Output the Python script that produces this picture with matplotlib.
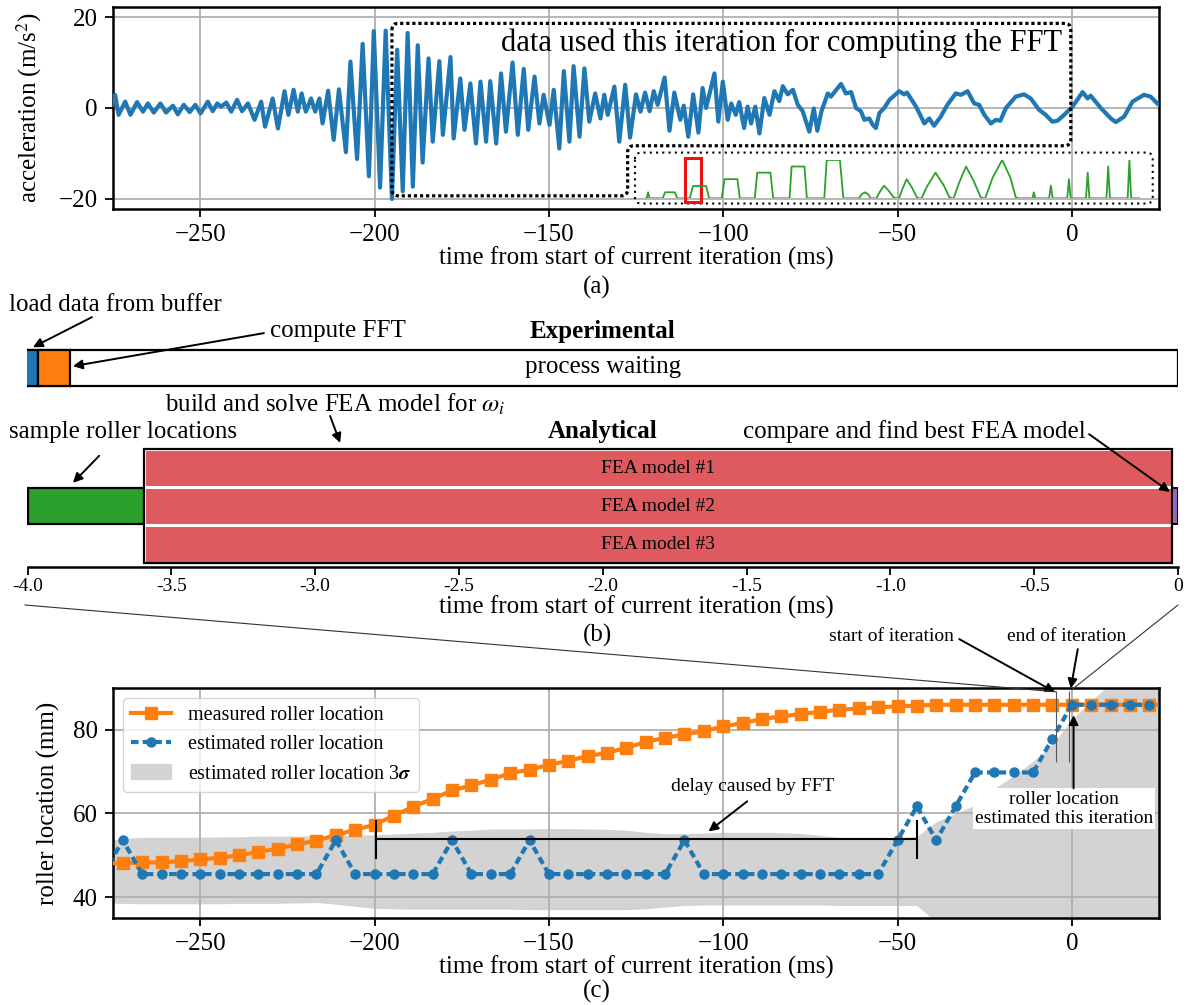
import matplotlib
matplotlib.use("Agg")
import matplotlib.pyplot as plt
from matplotlib.patches import Rectangle, PathPatch, ConnectionPatch, Patch
from matplotlib.lines import Line2D
from matplotlib.path import Path
import numpy as np

plt.rcParams['font.family'] = ['Liberation Serif', 'DejaVu Serif']
plt.rcParams['mathtext.fontset'] = 'stix'

# ---------------- (a) acceleration signal (ms, m/s^2) ----------------
acc_t = [
    -275.3, -274.4, -273.4, -271.5, -270.0, -268.1, -266.4, -265.0, -263.3, -261.4,
    -259.8, -257.8, -256.4, -254.7, -253.0, -251.4, -249.9, -247.8, -246.4, -245.1,
    -244.0, -242.5, -241.1, -239.4, -238.0, -236.3, -234.4, -232.5, -231.4, -229.2,
    -227.7, -225.8, -224.7, -223.2, -222.0, -220.9, -219.7, -218.2, -217.0, -215.8,
    -214.9, -213.3, -211.7, -210.2, -208.2, -206.9, -205.0, -203.4, -201.6, -200.2,
    -198.4, -196.8, -195.0, -193.5, -191.9, -190.5, -189.0, -187.6, -186.2, -184.5,
    -183.3, -181.4, -180.4, -178.2, -177.3, -175.4, -174.2, -172.5, -170.9, -169.6,
    -168.0, -166.8, -165.1, -163.7, -162.3, -160.4, -158.9, -157.2, -155.9, -154.1,
    -152.7, -151.5, -149.8, -148.6, -147.0, -145.7, -144.1, -142.9, -141.2, -139.8,
    -138.4, -136.7, -135.2, -134.1, -133.1, -131.2, -129.8, -128.1, -126.7,
    -125.0, -123.7, -122.4, -121.1, -119.9, -118.8, -116.8, -115.4, -114.0, -112.3,
    -111.3, -110.0, -108.6, -107.1, -105.9, -104.9, -103.9, -102.5, -101.4, -100.1,
    -98.7, -97.7, -96.4, -95.4, -94.0, -93.0, -92.0, -90.8, -89.6, -88.2,
    -86.7, -85.3, -83.9, -82.9, -81.5, -80.0, -78.6, -77.2, -75.3, -74.0,
    -73.0, -71.8, -70.0, -69.1, -66.2, -64.8, -63.3, -61.9, -60.5, -59.5,
    -58.1, -57.1, -56.2, -55.2, -53.8, -52.3,
    -49.5, -48.1, -47.3, -46.6, -44.7, -43.5, -42.3, -40.9, -39.5, -37.6,
    -35.7, -33.3, -31.8, -29.9, -28.0, -26.6, -25.1, -23.2, -21.8, -20.5,
    -18.9, -16.1, -13.7, -11.8, -9.4, -7.5, -5.6, -4.1, -2.2, 0.2,
    3.1, 4.5, 5.4, 8.3, 11.2, 12.6, 15.0, 17.4, 20.7, 22.6,
    24.5, 25.5,
]
acc_v = [
    0.5, 2.9, -1.5, 1.4, -1.5, 1.3, -0.8, 1.0, -1.0, 1.0,
    -1.0, 0.5, -1.4, 0.7, -0.9, 0.7, -1.2, 1.4, -0.7, 1.0,
    0.3, 1.2, -0.8, 1.8, -0.7, 1.0, -2.6, 1.4, -4.1, 2.1,
    -4.5, 3.7, -1.5, 4.0, -0.8, 3.2, -0.8, 2.1, -0.8, 2.1,
    -3.4, 3.8, -7.0, 4.1, -9.7, 10.2, -11.2, 14.1, -15.0, 16.9,
    -17.5, 17.0, -20.0, 12.8, -18.3, 16.5, -17.3, 13.8, -12.0, 10.9,
    -7.4, 10.3, -5.9, 11.2, -6.7, 6.5, -4.8, 5.4, -7.8, 5.8,
    -7.4, 5.9, -7.8, 7.6, -5.2, 10.0, -5.9, 8.6, -4.8, 6.9,
    -3.4, 2.9, -3.7, 4.0, -8.9, 8.1, -7.4, 9.2, -6.3, 8.7,
    -3.0, 3.2, -2.3, 2.9, -1.5, 4.7, -7.4, 5.1, -6.5,
    3.0, -0.8, 3.4, -0.7, 3.7, 0.7, 6.7, -5.0, 3.4, -2.6,
    0.5, -6.3, 3.0, -5.4, 4.4, 0.0, 3.2, 7.6, -3.0, 5.8,
    -2.6, 1.0, -1.5, 1.3, -4.4, 0.3, -3.4, 0.3, -5.6, 2.2,
    -1.5, 3.7, 1.5, 4.8, 3.0, 4.0, 0.7, -0.7, -5.2, -0.1,
    -5.0, -0.7, 3.2, 2.5, 5.3, 3.2, 3.5, 0.0, -0.7, -2.6,
    -2.3, -3.7, -4.4, -1.1, 0.0, 1.8,
    3.7, 3.0, 3.4, 2.6, 0.3, -1.5, -3.4, -2.3, -3.9, -1.9,
    0.7, 3.2, 2.9, 3.7, 1.0, 0.7, -1.5, -3.4, -2.6, -2.8,
    0.0, 2.5, 3.0, 2.1, -0.4, -1.5, -3.0, -2.8, -1.5, 0.3,
    3.5, 2.1, 2.7, 0.0, -2.3, -3.1, -1.9, 1.4, 2.9, 2.5,
    1.0, 0.5,
]

# FFT window outline (corners, ms / m/s^2) and spectrum inset box
win_x = [-195.0, -0.3, -0.3, -127.4, -127.4, -195.0]
win_y = [18.6, 18.6, -8.3, -8.3, -19.3, -19.3]
specbox_x = [-125.3, 23.2, 23.2, -125.3]
specbox_y = [-9.8, -9.8, -21.0, -21.0]

# FFT magnitude (bin, normalised magnitude)
spec_bin = [0, 4, 8, 12, 50, 57, 85, 92, 128, 137, 175, 184, 220, 228, 265, 272,
            315, 322, 360, 368, 415, 421, 458, 465, 515, 522, 560, 570,
            615, 622, 632, 642, 648,
            665, 675, 687, 700, 715, 722,
            730, 740, 752, 766, 782, 788,
            795, 810, 835, 858, 875, 882,
            887, 905, 923, 945, 965, 972,
            978, 1000, 1027, 1050, 1066, 1072,
            1114, 1118, 1122, 1162, 1167, 1172, 1214, 1219, 1224,
            1268, 1273, 1278, 1327, 1332, 1337, 1388, 1393, 1398, 1423]
spec_mag = [0, 0, 0.157, 0, 0, 0.157, 0.157, 0, 0, 0.32, 0.32, 0, 0, 0.50, 0.50, 0,
            0, 0.67, 0.67, 0, 0, 0.83, 0.83, 0, 0, 1.0, 1.0, 0,
            0, 0.10, 0.157, 0.10, 0,
            0, 0.17, 0.33, 0.20, 0.02, 0,
            0, 0.25, 0.50, 0.30, 0.02, 0,
            0, 0.30, 0.67, 0.35, 0.03, 0,
            0, 0.45, 0.83, 0.45, 0.03, 0,
            0, 0.55, 1.0, 0.55, 0.03, 0,
            0, 0.157, 0, 0, 0.33, 0, 0, 0.50, 0,
            0, 0.67, 0, 0, 0.83, 0, 0, 1.0, 0, 0]
spec_sel = (113, 160)   # bins inside the red marker

# ---------------- (b) timing of one iteration (ms) ----------------
exp_names = ['process waiting', 'load data from buffer', 'compute FFT']
exp_start = [-4.012, -4.012, -3.965]
exp_end = [0.0, -3.965, -3.852]
exp_colors = ['white', '#1f77b4', '#ff7f0e']

sample_span = (-4.0, -3.594)
fea_span = (-3.594, -0.021)
compare_span = (-0.021, 0.0)
fea_models = ['FEA model #1', 'FEA model #2', 'FEA model #3']

b_ticks = [-4.0, -3.5, -3.0, -2.5, -2.0, -1.5, -1.0, -0.5, 0.0]
b_ticklabels = ['-4.0', '-3.5', '-3.0', '-2.5', '-2.0', '-1.5', '-1.0', '-0.5', '0']

# ---------------- (c) roller location (mm) ----------------
iter_period = 5.555
first_iter = -277.75
measured = [48.1, 48.1, 48.3, 48.3, 48.6, 49.0, 49.4, 50.0, 50.8, 51.6,
            52.6, 53.5, 54.8, 56.1, 57.3, 59.5, 61.6, 63.5, 65.5, 66.7,
            68.1, 69.6, 70.5, 71.6, 72.6, 73.7, 74.5, 75.7, 77.1, 78.1,
            78.9, 79.7, 80.8, 81.6, 82.6, 83.2, 83.8, 84.3, 84.8, 85.1,
            85.4, 85.6, 85.8, 86.0, 86.0, 86.0, 86.0, 86.0, 86.0, 86.0,
            86.0, 86.0, 86.0, 86.0, 86.0, 86.0]
estimated = [45.5, 53.6, 45.5, 45.5, 45.5, 45.5, 45.5, 45.5, 45.5, 45.5,
             45.5, 45.5, 53.6, 45.5, 45.5, 45.5, 45.5, 45.5, 53.6, 45.5,
             45.5, 45.5, 53.6, 45.5, 45.5, 45.5, 45.5, 45.5, 45.5, 45.5,
             53.6, 45.5, 45.5, 45.5, 45.5, 45.5, 45.5, 45.5, 45.5, 45.5,
             45.5, 53.6, 61.7, 53.6, 61.7, 69.8, 69.8, 69.8, 69.8, 77.9,
             86.0, 86.0, 86.0, 86.0, 86.0, 86.0]
band_hi = [53.5, 54.0, 54.3, 54.3, 54.3, 54.3, 54.4, 54.4, 54.6, 54.6,
           54.6, 54.7, 54.8, 54.8, 54.9, 55.1, 55.3, 55.5, 55.8, 56.0,
           56.3, 56.3, 56.3, 56.4, 56.4, 56.3, 56.2, 56.0, 55.5, 55.2,
           55.2, 55.3, 55.5, 55.5, 55.5, 55.4, 55.2, 54.8, 54.3, 54.1,
           54.1, 54.2, 54.5, 58.0, 60.0, 62.0, 66.0, 69.0, 72.5, 76.5,
           82.5, 87.0, 91.0, 92.0, 92.0, 92.0]
band_lo = [38.6, 38.5, 38.4, 38.4, 38.4, 38.4, 38.4, 38.5, 38.5, 38.5,
           38.6, 38.7, 38.3, 37.8, 37.3, 37.2, 37.1, 37.1, 37.1, 37.1,
           37.1, 37.1, 37.0, 37.0, 37.0, 37.0, 37.0, 37.0, 37.2, 37.6,
           38.0, 38.1, 38.1, 38.1, 38.1, 38.1, 38.1, 38.1, 38.0, 38.0,
           38.0, 38.0, 38.0, 34.0, 30.0, 30.0, 30.0, 30.0, 30.0, 30.0,
           30.0, 30.0, 30.0, 30.0, 30.0, 30.0]
fft_delay = (-199.5, -44.4)
iteration_start, iteration_end = -4.5, -0.9

W, H = 1189, 1005
fig = plt.figure(figsize=(W / 100, H / 100), dpi=100)


def px_rect(left, top, right, bottom):
    return [left / W, 1 - bottom / H, (right - left) / W, (bottom - top) / H]


def rounded_outline(xs, ys, rx, ry):
    verts, codes = [], []
    n = len(xs)
    for i in range(n):
        cx, cy = xs[i], ys[i]
        px_, py_ = xs[i - 1], ys[i - 1]
        nx, ny = xs[(i + 1) % n], ys[(i + 1) % n]
        a = (cx + np.sign(px_ - cx) * rx, cy + np.sign(py_ - cy) * ry)
        b = (cx + np.sign(nx - cx) * rx, cy + np.sign(ny - cy) * ry)
        verts += [a, (cx, cy), b]
        codes += [Path.MOVETO if i == 0 else Path.LINETO, Path.CURVE3, Path.CURVE3]
    verts.append(verts[0])
    codes.append(Path.LINETO)
    return Path(verts, codes)


def style_axes(ax):
    ax.tick_params(labelsize=18, width=1.3, length=6, pad=5)
    for s in ax.spines.values():
        s.set_linewidth(1.8)
    ax.grid(True, color='#b0b0b0', lw=1.3)
    ax.set_axisbelow(True)


arrow_kw = dict(arrowstyle='-|>', color='black', lw=1.4, mutation_scale=14,
                shrinkA=0, shrinkB=0)

# ================= panel (a) =================
ax_a = fig.add_axes(px_rect(113, 7, 1159, 209))
ax_a.plot(acc_t, acc_v, color='#1f77b4', lw=3, solid_joinstyle='round', zorder=3)
ax_a.set_xlim(-275, 25)
ax_a.set_ylim(-22.2, 22.2)
ax_a.set_xticks([-250, -200, -150, -100, -50, 0])
ax_a.set_yticks([-20, 0, 20])
style_axes(ax_a)
ax_a.set_xlabel('time from start of current iteration (ms)', fontsize=18, va='center')
ax_a.xaxis.set_label_coords(0.5, -(258 - 209) / 202)
ax_a.set_ylabel('acceleration (m/s$^2$)', fontsize=18, va='center')
ax_a.yaxis.set_label_coords((29 - 113) / 1046, 0.5)

ax_a.add_patch(PathPatch(rounded_outline(win_x, win_y, 1.8, 1.4), fill=False,
                         ec='black', lw=2.3, ls=(0, (1, 0.9)), zorder=4))
ax_a.add_patch(PathPatch(rounded_outline(specbox_x, specbox_y, 1.8, 1.4), fill=False,
                         ec='black', lw=1.5, ls=(0, (1, 2.0)), zorder=4))
ax_a.text(-2.8, 14.2, 'data used this iteration for computing the FFT', fontsize=22,
          ha='right', va='center', zorder=5)

ax_in = ax_a.inset_axes([-122.33, -19.85, 141.83, 8.42], transform=ax_a.transData)
ax_in.plot(spec_bin, spec_mag, color='#2ca02c', lw=1.3)
ax_in.set_xlim(0, 1423)
ax_in.set_ylim(0, 1)
ax_in.axis('off')
ax_in.add_patch(Rectangle((spec_sel[0], -0.087), spec_sel[1] - spec_sel[0], 1.127,
                          fill=False, ec='#ee1111', lw=2.2, clip_on=False))

fig.text(597 / W, 1 - 287 / H, '(a)', fontsize=18, ha='center', va='center')

# ================= panel (b) =================
ax_b = fig.add_axes(px_rect(27.5, 295, 1178, 567))
ax_b.set_xlim(-4, 0)
ax_b.set_ylim(-0.105, 7.053)
for s in ['left', 'right', 'top']:
    ax_b.spines[s].set_visible(False)
ax_b.spines['bottom'].set_linewidth(1.8)
ax_b.set_yticks([])
ax_b.set_xticks(b_ticks)
ax_b.set_xticklabels(b_ticklabels)
ax_b.tick_params(axis='x', labelsize=14, width=1.3, length=6, pad=2)
ax_b.set_xlabel('time from start of current iteration (ms)', fontsize=18, va='center')
ax_b.xaxis.set_label_coords((636 - 27.5) / 1150.5, -(607 - 567) / 272)

exp_y, exp_h = 5.13, 0.945
for name, x0, x1, c in zip(exp_names, exp_start, exp_end, exp_colors):
    ax_b.barh(exp_y, x1 - x0, left=x0, height=exp_h, color=c, edgecolor='black', lw=1.6)

ax_b.barh(1.5, sample_span[1] - sample_span[0], left=sample_span[0], height=0.94,
          color='#2ca02c', edgecolor='black', lw=1.6)
rows = [2.5, 1.5, 0.5]
ax_b.barh(rows, fea_span[1] - fea_span[0], left=fea_span[0], height=1.0,
          color='#df5a5e', edgecolor='white', lw=2.2)
ax_b.add_patch(Rectangle((fea_span[0], 0), fea_span[1] - fea_span[0], 3, fill=False,
                         ec='black', lw=1.6))
ax_b.barh(1.5, compare_span[1] - compare_span[0], left=compare_span[0], height=0.94,
          color='#9467bd', edgecolor='black', lw=1.4)
for label, y in zip(fea_models, rows):
    ax_b.text(sum(fea_span) / 2, y, label, fontsize=14, ha='center', va='center')

ax_b.text(-2.0, 6.08, 'Experimental', fontsize=18, fontweight='bold', ha='center', va='center')
ax_b.text(-2.0, 5.16, 'process waiting', fontsize=18, ha='center', va='center')
ax_b.text(-2.0, 3.45, 'Analytical', fontsize=18, fontweight='bold', ha='center', va='center')
ax_b.text(-4.066, 6.79, 'load data from buffer', fontsize=18, ha='left', va='center', clip_on=False)
ax_b.text(-3.157, 6.105, 'compute FFT', fontsize=18, ha='left', va='center')
ax_b.text(-3.522, 4.18, r'build and solve FEA model for $\omega_i$', fontsize=18,
          ha='left', va='center')
ax_b.text(-4.066, 3.45, 'sample roller locations', fontsize=18, ha='left', va='center',
          clip_on=False)
ax_b.text(-1.513, 3.45, 'compare and find best FEA model', fontsize=18, ha='left', va='center')

ax_b.annotate('', xy=(-3.981, 5.68), xytext=(-3.776, 6.47), arrowprops=arrow_kw)
ax_b.annotate('', xy=(-3.842, 5.18), xytext=(-3.178, 6.05), arrowprops=arrow_kw)
ax_b.annotate('', xy=(-2.913, 3.16), xytext=(-2.948, 3.87), arrowprops=arrow_kw)
ax_b.annotate('', xy=(-3.842, 2.11), xytext=(-3.751, 2.82), arrowprops=arrow_kw)
ax_b.annotate('', xy=(-0.028, 1.87), xytext=(-0.309, 3.39), arrowprops=arrow_kw)

fig.text(597 / W, 1 - 635 / H, '(b)', fontsize=18, ha='center', va='center')

# ================= panel (c) =================
ax_c = fig.add_axes(px_rect(113, 688, 1159, 918))
t_iter = first_iter + iter_period * np.arange(len(measured))
ax_c.fill_between(t_iter, band_lo, band_hi, color='#d3d3d3', lw=0, zorder=0.3)
ax_c.plot(t_iter, measured, color='#ff7f0e', lw=3, marker='s', ms=8, zorder=3)
ax_c.plot(t_iter, estimated, color='#1f77b4', lw=3, ls=(0, (1.8, 1.0)), marker='o',
          ms=6.5, zorder=4)
ax_c.set_xlim(-275, 25)
ax_c.set_ylim(35, 90)
ax_c.set_xticks([-250, -200, -150, -100, -50, 0])
ax_c.set_yticks([40, 60, 80])
style_axes(ax_c)
ax_c.set_xlabel('time from start of current iteration (ms)', fontsize=18, va='center')
ax_c.xaxis.set_label_coords(0.5, -(967 - 918) / 230)
ax_c.set_ylabel('roller location (mm)', fontsize=18, va='center')
ax_c.yaxis.set_label_coords((48 - 113) / 1046, 0.5)

# delay bracket
ax_c.plot(fft_delay, [53.9, 53.9], color='black', lw=1.5, zorder=5)
ax_c.vlines(fft_delay, 49.1, 58.5, color='black', lw=1.5, zorder=5)
ax_c.text(-91.5, 66.4, 'delay caused by FFT', fontsize=14, ha='center', va='center')
ax_c.annotate('', xy=(-104.2, 55.7), xytext=(-93.1, 62.9), arrowprops=arrow_kw)

ax_c.vlines([iteration_start, iteration_end], 72.4, 89.3, color='#555555', lw=0.8, zorder=5)
ax_c.text(-51.8, 102.2, 'start of iteration', fontsize=14, ha='center', va='center',
          clip_on=False)
ax_c.annotate('', xy=(-4.8, 89.0), xytext=(-32.3, 101.7), arrowprops=arrow_kw,
              annotation_clip=False)
ax_c.text(-1.4, 102.2, 'end of iteration', fontsize=14, ha='center', va='center',
          clip_on=False)
ax_c.annotate('', xy=(-0.3, 89.9), xytext=(1.7, 99.3), arrowprops=arrow_kw,
              annotation_clip=False)
ax_c.text(-2.3, 61.1, 'roller location\nestimated this iteration', fontsize=14,
          ha='center', va='center', zorder=6,
          bbox=dict(facecolor='white', edgecolor='none', pad=1.5))
ax_c.annotate('', xy=(0.5, 83.5), xytext=(0.5, 66.0), arrowprops=arrow_kw, zorder=7)

handles = [
    Line2D([], [], color='#ff7f0e', lw=3, marker='s', ms=8),
    Line2D([], [], color='#1f77b4', lw=3, ls=(0, (1.8, 1.0)), marker='o', ms=6.5),
    Patch(color='#d3d3d3'),
]
ax_c.legend(handles, ['measured roller location', 'estimated roller location',
                      r'estimated roller location 3$\boldsymbol{\sigma}$'],
            loc='upper left', fontsize=14.5, framealpha=0.8)

fig.text(597 / W, 1 - 991 / H, '(c)', fontsize=18, ha='center', va='center')

# zoom connectors from (b) to (c)
for xa, xb, yb in [(-4.009, iteration_start - 0.1, 89.1), (0.0, 0.0, 89.6)]:
    con = ConnectionPatch(xyA=(xa, -1.105), coordsA=ax_b.transData,
                          xyB=(xb, yb), coordsB=ax_c.transData,
                          color='#333333', lw=0.8)
    fig.add_artist(con)

fig.savefig('out.png', dpi=100)
